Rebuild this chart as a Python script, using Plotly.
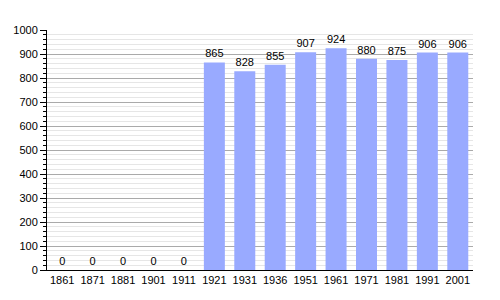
import plotly.graph_objects as go

years = ["1861", "1871", "1881", "1901", "1911", "1921", "1931", "1936",
         "1951", "1961", "1971", "1981", "1991", "2001"]
population = [0, 0, 0, 0, 0, 865, 828, 855, 907, 924, 880, 875, 906, 906]

fig = go.Figure(go.Bar(
    x=years, y=population,
    marker=dict(color="#99AAFF", line=dict(width=0)),
    text=[str(v) for v in population], textposition="outside",
    textfont=dict(size=11, color="#000000", family="Liberation Sans, Arial, sans-serif"),
    cliponaxis=False,
))

fig.update_layout(
    width=500, height=300,
    margin=dict(l=47, r=27, t=30, b=30),
    paper_bgcolor="white", plot_bgcolor="white",
    font=dict(family="Liberation Sans, Arial, sans-serif", size=11, color="#000000"),
    bargap=0.31, showlegend=False,
)
fig.update_xaxes(
    type="category", showline=True, linecolor="#000000", linewidth=1,
    ticks="", showgrid=False, tickfont=dict(size=11),
)
fig.update_yaxes(
    range=[0, 1000], dtick=100, showline=True, linecolor="#000000", linewidth=1,
    ticks="outside", ticklen=6, tickcolor="#000000",
    showgrid=True, gridcolor="#aaaaaa", gridwidth=1, zeroline=False,
    minor=dict(dtick=20, ticks="outside", ticklen=3, tickcolor="#000000",
               showgrid=True, gridcolor="#e6e6e6", gridwidth=1),
    tickfont=dict(size=11),
)

fig.write_html("out.html")
